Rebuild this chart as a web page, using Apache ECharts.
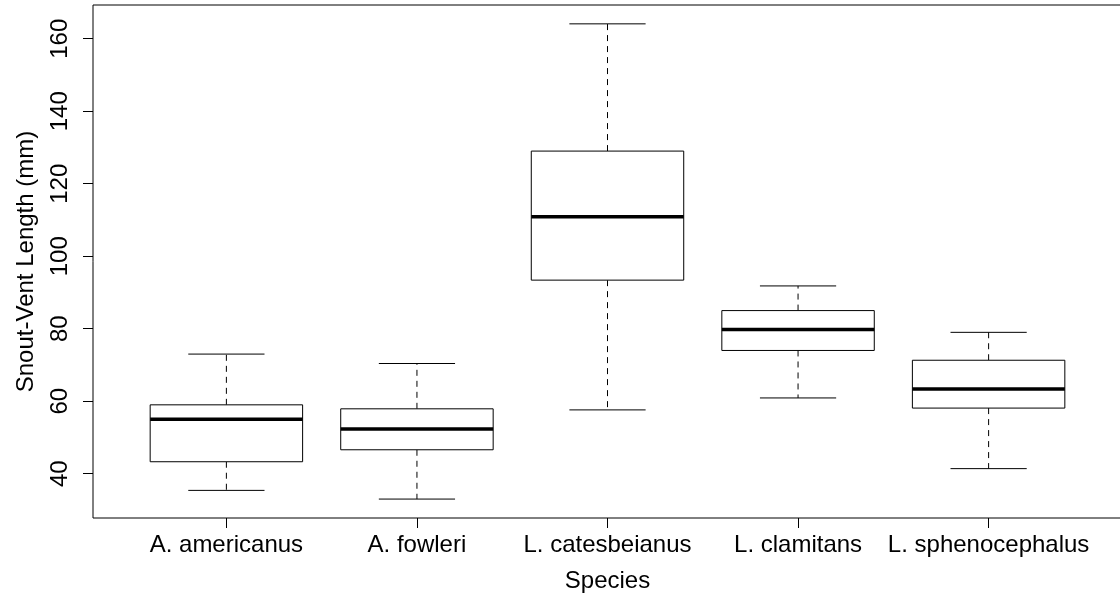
<!DOCTYPE html>
<html>
<head>
<meta charset="utf-8">
<script src="https://cdn.jsdelivr.net/npm/echarts@6/dist/echarts.min.js"></script>
<style>
html,body{margin:0;padding:0;background:#fff;}
#chart{width:1120px;height:605px;}
</style>
</head>
<body>
<div id="chart"></div>
<script>
var categories = ['A. americanus', 'A. fowleri', 'L. catesbeianus', 'L. clamitans', 'L. sphenocephalus'];
var lowerWhisker = [35.4, 33.0, 57.6, 60.9, 41.4];
var q1 = [43.3, 46.6, 93.4, 74.0, 58.1];
var median = [55.0, 52.3, 110.9, 79.8, 63.4];
var q3 = [59.0, 57.9, 129.0, 85.0, 71.3];
var upperWhisker = [73.0, 70.4, 164.1, 91.8, 79.0];
var yTicks = [40, 60, 80, 100, 120, 140, 160];
var xTicks = [1, 2, 3, 4, 5];

var data = categories.map(function (c, i) {
  return [i + 1, lowerWhisker[i], q1[i], median[i], q3[i], upperWhisker[i]];
});

var FONT = '"Liberation Sans", Arial, Helvetica, sans-serif';

function renderItem(params, api) {
  var x = api.value(0);
  var lo = api.coord([x, api.value(1)]);
  var b1 = api.coord([x, api.value(2)]);
  var md = api.coord([x, api.value(3)]);
  var b3 = api.coord([x, api.value(4)]);
  var hi = api.coord([x, api.value(5)]);
  var hw = api.size([0.4, 0])[0];
  var sw = hw / 2;
  var cx = lo[0];
  var dash = {stroke: '#000', lineWidth: 1, lineDash: [6, 5], fill: null};
  var solid = {stroke: '#000', lineWidth: 1, fill: null};
  return {
    type: 'group',
    children: [
      {type: 'line', shape: {x1: cx, y1: b3[1], x2: cx, y2: hi[1]}, style: dash},
      {type: 'line', shape: {x1: cx, y1: b1[1], x2: cx, y2: lo[1]}, style: dash},
      {type: 'line', shape: {x1: cx - sw, y1: hi[1], x2: cx + sw, y2: hi[1]}, style: solid},
      {type: 'line', shape: {x1: cx - sw, y1: lo[1], x2: cx + sw, y2: lo[1]}, style: solid},
      {type: 'rect', shape: {x: cx - hw, y: b3[1], width: 2 * hw, height: b1[1] - b3[1]},
        style: {fill: '#fff', stroke: '#000', lineWidth: 1}},
      {type: 'line', shape: {x1: cx - hw, y1: md[1], x2: cx + hw, y2: md[1]},
        style: {stroke: '#000', lineWidth: 3.5}}
    ]
  };
}

var chart = echarts.init(document.getElementById('chart'), null, {renderer: 'canvas'});
chart.setOption({
  animation: false,
  backgroundColor: '#fff',
  grid: {
    left: 93, top: 5, width: 1029, height: 513,
    show: true, borderColor: '#000', borderWidth: 1, backgroundColor: 'transparent',
    containLabel: false, outerBoundsMode: 'none'
  },
  xAxis: {
    type: 'value', min: 0.3, max: 5.7,
    name: 'Species', nameLocation: 'middle', nameGap: 51,
    nameTextStyle: {fontFamily: FONT, fontSize: 24, color: '#000'},
    axisLine: {show: false},
    splitLine: {show: false},
    axisTick: {show: true, length: 10, customValues: xTicks, lineStyle: {color: '#000', width: 1}},
    axisLabel: {
      customValues: xTicks, margin: 15, fontFamily: FONT, fontSize: 24, color: '#000',
      formatter: function (v) { return categories[Math.round(v) - 1] || ''; }
    }
  },
  yAxis: {
    type: 'value', min: 27.78, max: 169.3,
    name: 'Snout-Vent Length (mm)', nameLocation: 'middle', nameGap: 55,
    nameTextStyle: {fontFamily: FONT, fontSize: 24, color: '#000'},
    axisLine: {show: false},
    splitLine: {show: false},
    axisTick: {show: true, length: 10, customValues: yTicks, lineStyle: {color: '#000', width: 1}},
    axisLabel: {
      customValues: yTicks, rotate: 90, margin: 21, fontFamily: FONT, fontSize: 24, color: '#000'
    }
  },
  series: [{
    type: 'custom',
    renderItem: renderItem,
    data: data,
    encode: {x: 0, y: [1, 2, 3, 4, 5]},
    clip: false
  }]
});
</script>
</body>
</html>
